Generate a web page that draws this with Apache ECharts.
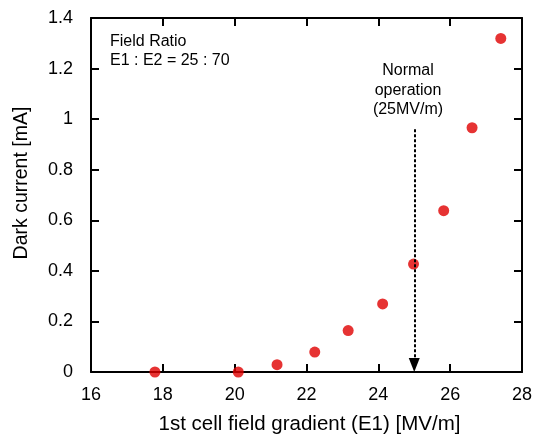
<!DOCTYPE html>
<html>
<head>
<meta charset="utf-8">
<script src="https://cdn.jsdelivr.net/npm/echarts@6/dist/echarts.min.js"></script>
<style>
    html, body { margin: 0; padding: 0; background: #fff; }
    #chart { width: 533px; height: 434px; }
</style>
</head>
<body>
<div id="chart"></div>
<script>
// dark current vs. 1st cell gradient
let gradient = [17.78, 20.1, 21.18, 22.23, 23.16, 24.12, 24.98, 25.82, 26.61, 27.41];
let darkCurrent = [0.0, 0.0, 0.029, 0.079, 0.164, 0.269, 0.427, 0.638, 0.966, 1.319];
let xTicks = [16, 18, 20, 22, 24, 26, 28];
let yTicks = [0, 0.2, 0.4, 0.6, 0.8, 1, 1.2, 1.4];
let normalOp = 25;
let arrowTop = 0.96;

let myChart = echarts.init(document.getElementById('chart'));
let font = 'Liberation Sans, Arial, sans-serif';

let points = gradient.map(function (x, i) {
    return [x, darkCurrent[i]];
});

function frameAxis(pos, isX) {
    let ticks = isX ? xTicks : yTicks;
    return {
        type: 'value',
        position: pos,
        min: ticks[0],
        max: ticks[ticks.length - 1],
        interval: isX ? 2 : 0.2,
        axisLine: {show: true, onZero: false, lineStyle: {color: '#000', width: 2}},
        axisTick: {show: true, inside: true, length: 8, lineStyle: {color: '#000', width: 2}},
        axisLabel: {show: false},
        splitLine: {show: false}
    };
}

let xMain = frameAxis('bottom', true);
xMain.axisLabel = {
    show: true, margin: 14, color: '#000', fontSize: 18, fontFamily: font,
    formatter: function (v) { return String(v); }
};
xMain.name = '1st cell field gradient (E1) [MV/m]';
xMain.nameLocation = 'middle';
xMain.nameGap = 42;
xMain.nameTextStyle = {color: '#000', fontSize: 20.5, fontFamily: font, padding: [0, 0, 0, 6]};

let yMain = frameAxis('left', false);
yMain.axisLabel = {
    show: true, margin: 18, color: '#000', fontSize: 18, fontFamily: font,
    formatter: function (v) { return String(+v.toFixed(1)); }
};
yMain.name = 'Dark current [mA]';
yMain.nameLocation = 'middle';
yMain.nameGap = 59;
yMain.nameTextStyle = {color: '#000', fontSize: 19.5, fontFamily: font, padding: [0, 0, 0, 24]};

option = {
    backgroundColor: '#fff',
    animation: false,
    grid: {left: 91, right: 11, top: 18, bottom: 62, outerBoundsMode: 'none'},
    xAxis: [xMain, frameAxis('top', true)],
    yAxis: [yMain, frameAxis('right', false)],
    graphic: [
        {
            type: 'text', left: 110, top: 32,
            style: {text: 'Field Ratio\nE1 : E2 = 25 : 70', fill: '#000', font: '16px ' + font, lineHeight: 19}
        },
        {
            type: 'text', x: 408, y: 61,
            style: {text: 'Normal\noperation\n(25MV/m)', fill: '#000', font: '16px ' + font, lineHeight: 19.5, align: 'center'}
        }
    ],
    series: [
        {
            type: 'scatter',
            data: points,
            symbol: 'circle',
            symbolSize: 11,
            itemStyle: {color: '#e00000'},
            z: 2,
            markLine: {
                silent: true,
                symbol: ['none', 'triangle'],
                symbolSize: [11, 14],
                lineStyle: {color: '#000', type: [3, 2], width: 2},
                label: {show: false},
                z: 5,
                data: [[
                    {coord: [normalOp, arrowTop]},
                    {coord: [normalOp, 0.028]}
                ]]
            }
        }
    ]
};
myChart.setOption(option);
</script>
</body>
</html>
